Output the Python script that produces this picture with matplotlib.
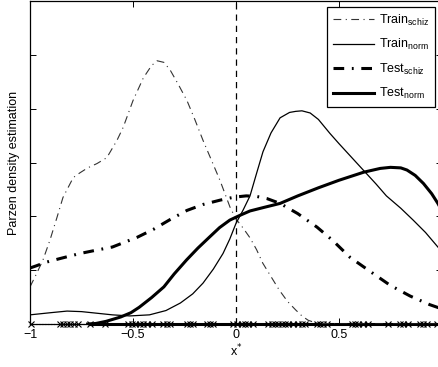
import matplotlib
matplotlib.use("Agg")
import matplotlib.pyplot as plt

plt.rcParams['font.family'] = ['Liberation Sans', 'DejaVu Sans']

# Train schiz (thin dash-dot)
tr_s_x = [-1.0, -0.97, -0.937, -0.903, -0.869, -0.84, -0.79, -0.757, -0.72, -0.675, -0.627,
          -0.578, -0.548, -0.5, -0.45, -0.41, -0.383, -0.35, -0.32, -0.28, -0.238, -0.2,
          -0.16, -0.12, -0.078, -0.029, 0.0, 0.035, 0.068, 0.10, 0.13, 0.17, 0.21, 0.25,
          0.29, 0.32, 0.35, 0.38, 0.42, 0.5, 0.7, 1.0]
tr_s_y = [0.69, 0.92, 1.19, 1.56, 1.98, 2.35, 2.72, 2.81, 2.90, 2.98, 3.09,
          3.41, 3.65, 4.15, 4.57, 4.80, 4.89, 4.86, 4.72, 4.45, 4.15, 3.80,
          3.41, 3.05, 2.67, 2.17, 1.95, 1.78, 1.60, 1.38, 1.13, 0.88, 0.63, 0.42,
          0.26, 0.15, 0.07, 0.03, 0.01, 0.0, 0.0, 0.0]

# Train norm (thin solid)
tr_n_x = [-1.0, -0.9, -0.82, -0.75, -0.675, -0.6, -0.515, -0.42, -0.34, -0.27, -0.21, -0.16,
          -0.11, -0.063, -0.03, 0.0, 0.035, 0.068, 0.10, 0.131, 0.17, 0.214, 0.26, 0.29, 0.32,
          0.36, 0.40, 0.456, 0.5, 0.56, 0.62, 0.68, 0.73, 0.80, 0.86, 0.92, 0.98, 1.0]
tr_n_y = [0.17, 0.21, 0.24, 0.23, 0.20, 0.17, 0.15, 0.17, 0.25, 0.39, 0.56, 0.76,
          1.02, 1.31, 1.58, 1.87, 2.12, 2.38, 2.80, 3.20, 3.55, 3.83, 3.93, 3.95, 3.96,
          3.92, 3.80, 3.54, 3.35, 3.10, 2.85, 2.60, 2.38, 2.15, 1.93, 1.70, 1.43, 1.35]

# Test schiz (thick dash-dot)
te_s_x = [-1.0, -0.97, -0.92, -0.85, -0.757, -0.68, -0.6, -0.54, -0.48, -0.4, -0.32, -0.238,
          -0.16, -0.078, -0.03, 0.0, 0.05, 0.10, 0.15, 0.214, 0.30, 0.393, 0.47, 0.553,
          0.65, 0.748, 0.845, 0.94, 1.0]
te_s_y = [1.04, 1.08, 1.15, 1.22, 1.31, 1.37, 1.43, 1.52, 1.61, 1.76, 1.94, 2.11,
          2.22, 2.30, 2.34, 2.36, 2.38, 2.37, 2.33, 2.24, 2.05, 1.80, 1.55, 1.24,
          0.98, 0.72, 0.52, 0.36, 0.28]

# Test norm (thick solid)
te_n_x = [-0.72, -0.68, -0.63, -0.56, -0.51, -0.47, -0.41, -0.35, -0.30, -0.24, -0.185, -0.13,
          -0.08, -0.03, 0.02, 0.068, 0.14, 0.214, 0.30, 0.40, 0.5, 0.62, 0.70, 0.75, 0.80,
          0.83, 0.87, 0.91, 0.95, 0.98, 1.0]
te_n_y = [0.0, 0.01, 0.05, 0.13, 0.21, 0.31, 0.49, 0.69, 0.93, 1.19, 1.41, 1.61,
          1.79, 1.93, 2.02, 2.10, 2.17, 2.24, 2.38, 2.53, 2.67, 2.82, 2.89, 2.91, 2.90,
          2.86, 2.76, 2.61, 2.42, 2.24, 2.10]

# thick baseline segment along y = 0
base_x = [-0.72, 1.0]
base_y = [0.0, 0.0]

# sample points on the x axis
samples = [-0.995, -0.854, -0.838, -0.822, -0.806, -0.786, -0.765, -0.709, -0.636, -0.523,
           -0.506, -0.49, -0.466, -0.45, -0.434, -0.409, -0.353, -0.337, -0.32, -0.239,
           -0.223, -0.207, -0.142, -0.126, -0.11, -0.013, 0.003, 0.028, 0.044, 0.06, 0.084,
           0.157, 0.173, 0.189, 0.205, 0.222, 0.238, 0.254, 0.278, 0.303, 0.319, 0.335,
           0.392, 0.408, 0.424, 0.44, 0.562, 0.578, 0.594, 0.618, 0.642, 0.739, 0.796,
           0.812, 0.837, 0.893, 0.91, 0.926, 0.974]

xticks = [-1, -0.5, 0, 0.5]
xticklabels = ['\u22121', '\u22120.5', '0', '0.5']
yticks = [0, 1, 2, 3, 4, 5, 6]

fig = plt.figure(figsize=(4.38, 3.67), dpi=100)
ax = fig.add_axes([30 / 438, 43 / 367, 412 / 438, 323 / 367])

ax.plot([-1, 1], [0, 0], color='black', lw=0.8, ls=':', clip_on=False)
ax.plot(base_x, base_y, color='black', lw=2.2, clip_on=False, solid_capstyle='butt')
ax.plot(samples, [0] * len(samples), 'x', color='black', ms=4.5, mew=0.8, clip_on=False)
ax.axvline(0, color='black', lw=0.9, ls=(0, (5, 4)))

ax.plot(tr_s_x, tr_s_y, color='#333333', lw=0.8, ls=(0, (7, 4, 1, 4)), label='Train$_{\\mathregular{schiz}}$')
ax.plot(tr_n_x, tr_n_y, color='black', lw=0.9, ls='-', label='Train$_{\\mathregular{norm}}$')
ax.plot(te_s_x, te_s_y, color='black', lw=2.2, ls=(0, (3.5, 2.5, 0.6, 2.5)), label='Test$_{\\mathregular{schiz}}$')
ax.plot(te_n_x, te_n_y, color='black', lw=2.2, ls='-', label='Test$_{\\mathregular{norm}}$')

ax.set_xlim(-1, 1)
ax.set_ylim(0, 6)
ax.set_xticks(xticks)
ax.set_xticklabels(xticklabels, fontsize=9)
ax.set_yticks(yticks)
ax.set_yticklabels([])
ax.tick_params(direction='in', length=4, width=0.7, top=True, right=True)
for s in ax.spines.values():
    s.set_linewidth(0.9)

ax.set_xlabel('x$^{*}$', fontsize=9, labelpad=1)
ax.set_ylabel('Parzen density estimation', fontsize=9, labelpad=4)

leg = ax.legend(loc='upper left', bbox_to_anchor=((327 - 30) / 412, 1 - 6 / 323), fontsize=9,
                handlelength=3.3, fancybox=False, edgecolor='black', framealpha=1,
                borderpad=0.45, labelspacing=0.75, handletextpad=0.4, borderaxespad=0)
leg.get_frame().set_linewidth(0.9)

fig.savefig('out.png', dpi=100)
